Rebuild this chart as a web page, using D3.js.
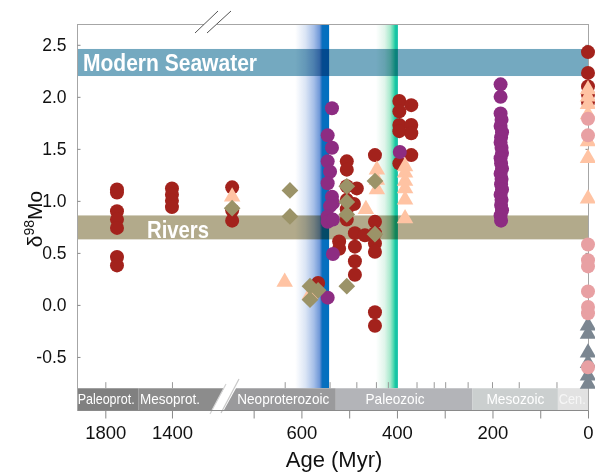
<!DOCTYPE html>
<html><head><meta charset="utf-8">
<script src="https://cdnjs.cloudflare.com/ajax/libs/d3/7.8.5/d3.min.js"></script>
<style>
body{margin:0;background:#fff}
svg{display:block;font-family:"Liberation Sans",Arial,Helvetica,sans-serif}
</style>
</head><body><svg id="c" width="595" height="473"></svg>
<script>
// ---------- data ----------
const yTicks = [-0.5, 0, 0.5, 1, 1.5, 2, 2.5];
const xTicks = [1800, 1400, 700, 600, 500, 400, 300, 200, 100, 0];
const xTickLabels = [1800, 1400, 600, 400, 200, 0];
const boundaryTicks = [1800, 1400, 635, 541, 485, 444, 419, 359, 323, 299, 252, 201, 145, 66];
const eraNames = ["Paleoprot.", "Mesoprot.", "Neoproterozoic", "Paleozoic", "Mesozoic", "Cen."];
const eraStart = [1970, 1600, 783, 528, 242, 63];
const eraEnd   = [1600, 1150, 528, 242, 63, 0];
const eraLabelAge = [1795, 1412, 638, 404, 152, 33];
const seawaterBand = [2.20, 2.46];
const riversBand = [0.63, 0.86];
const cambrianBand = [613, 542];
const devonianBand = [444, 398];

const redCircles = [
  [1730,1.11],[1730,1.08],[1730,0.90],[1730,0.82],[1730,0.74],[1730,0.46],[1730,0.38],
  [1400,1.12],[1400,1.06],[1400,1.00],[1400,0.94],
  [745,1.13],[745,0.91],[745,0.81],
  [565,0.21],
  [521,0.61],[521,0.54],
  [505,1.38],[505,1.30],[505,1.14],[505,1.01],[505,0.92],[505,0.82],
  [484,1.12],[490,0.97],
  [488,0.69],[488,0.56],[488,0.42],[488,0.29],[467,0.67],
  [446,1.44],[446,0.80],[446,0.69],[446,0.59],[446,0.51],[446,-0.07],[446,-0.20],
  [395,1.96],[395,1.86],[395,1.73],[395,1.67],[395,1.36],
  [370,1.92],[370,1.73],[370,1.65],[370,1.44],
  [0,2.43],[0,2.23],[0,2.10],[0,2.02],[0,1.95]
];
const peachTriangles = [
  [745,1.04],[635,0.22],[582,0.10],[465,0.92],
  [442,1.30],[442,1.20],[442,1.11],
  [383,1.33],[383,1.27],[383,1.19],[383,1.12],[383,1.01],[383,0.83],
  [0,2.07],[0,2.00],[0,1.93],[0,1.83],[0,1.57],[0,1.41],[0,1.02]
];
const purpleCircles = [
  [536,1.89],[545,1.63],[536,1.51],[545,1.38],[540,1.28],[545,1.17],[536,1.04],[534,0.98],
  [540,0.95],[545,0.85],[545,0.80],[534,0.82],[534,0.49],[545,0.07],
  [394,1.47],
  [183,2.12],[183,2.00],[183,1.84],[181,1.78],[183,1.72],[180,1.66],[182,1.61],[183,1.56],
  [181,1.51],[180,1.46],[183,1.41],[182,1.36],[180,1.31],[183,1.26],[181,1.21],[182,1.16],
  [180,1.11],[183,1.06],[181,1.01],[182,0.96],[180,0.91],[183,0.86],[182,0.81]
];
const khakiDiamonds = [
  [745,0.93],[624,1.10],[624,0.85],[582,0.18],[582,0.05],[565,0.14],
  [505,1.14],[505,0.99],[505,0.87],[505,0.18],[446,1.19],[446,0.68]
];
const grayTriangles = [[0,-0.20],[0,-0.28],[0,-0.46],[0,-0.56],[0,-0.68],[0,-0.76]];
const pinkCircles = [[0,1.79],[0,1.63],[0,0.58],[0,0.43],[0,0.37],[0,0.13],[0,-0.02],[0,-0.08],[0,-0.60]];

// ---------- styles ----------
const eraColors = ["#808080", "#8c8c8c", "#9a9a9c", "#b3b4b8", "#cbcfcf", "#e2e2e2"];
const eraText = ["#fff", "#fff", "#fff", "#fff", "#fff", "#f6f6f6"];
const eraTextLen = [57, 60, 92, 59, 58, 27];

// ---------- scales ----------
const svg = d3.select("#c");
const x = d3.scaleLinear().domain([1970, 1150, 783, 0]).range([77, 213.6, 214, 588]);
const y = d3.scaleLinear().domain([-1.01, 2.70]).range([410, 24]);
const plotTop = y(2.70), barTop = y(-0.80), barBot = y(-1.01);
const breakX = 214;

const defs = svg.append("defs");
function grad(id, stops) {
  const g = defs.append("linearGradient").attr("id", id).attr("x1", "0").attr("x2", "1").attr("y1", "0").attr("y2", "0");
  stops.forEach(s => g.append("stop").attr("offset", s[0]).attr("stop-color", s[1]));
}
grad("gBlue", [[0, "#ffffff"], [0.3, "#dbe5f5"], [0.55, "#a6bfe8"], [0.72, "#6f98d8"], [0.77, "#2f78c6"], [0.8, "#0a6fbe"], [1, "#0070c0"]]);
grad("gGreen", [[0, "#ffffff"], [0.4, "#dff5ea"], [0.65, "#a6e9cc"], [0.8, "#4fd8b0"], [0.88, "#19c8a4"], [1, "#12bea5"]]);

// horizontal bands
svg.append("rect").attr("x", x(1970)).attr("width", x(0) - x(1970))
  .attr("y", y(seawaterBand[1])).attr("height", y(seawaterBand[0]) - y(seawaterBand[1]))
  .attr("fill", "#74a9c0");
svg.append("rect").attr("x", x(1970)).attr("width", x(0) - x(1970))
  .attr("y", y(riversBand[1])).attr("height", y(riversBand[0]) - y(riversBand[1]))
  .attr("fill", "#b2aa8b");

// vertical gradient bands (multiply)
svg.append("rect").attr("x", x(cambrianBand[0])).attr("width", x(cambrianBand[1]) - x(cambrianBand[0]))
  .attr("y", plotTop).attr("height", barTop - plotTop).attr("fill", "url(#gBlue)")
  .style("mix-blend-mode", "multiply");
svg.append("rect").attr("x", x(devonianBand[0])).attr("width", x(devonianBand[1]) - x(devonianBand[0]))
  .attr("y", plotTop).attr("height", barTop - plotTop).attr("fill", "url(#gGreen)")
  .style("mix-blend-mode", "multiply");

// band labels
svg.append("text").attr("x", 83).attr("y", 71).attr("fill", "#fff")
  .attr("font-family", "'Liberation Sans Narrow','Liberation Sans',Arial,sans-serif")
  .attr("font-weight", "bold").attr("font-size", 24)
  .attr("textLength", 174).attr("lengthAdjust", "spacingAndGlyphs").text("Modern Seawater");
svg.append("text").attr("x", 147).attr("y", 238).attr("fill", "#fff")
  .attr("font-family", "'Liberation Sans Narrow','Liberation Sans',Arial,sans-serif")
  .attr("font-weight", "bold").attr("font-size", 24)
  .attr("textLength", 62).attr("lengthAdjust", "spacingAndGlyphs").text("Rivers");

// era bar
const eraG = svg.append("g");
eraNames.forEach((n, i) => {
  let x0 = x(eraStart[i]), x1 = x(eraEnd[i]);
  let pts;
  if (i === 1) pts = [[x0, barTop], [224, barTop], [212, barBot], [x0, barBot]];
  else if (i === 2) pts = [[236, barTop], [x1, barTop], [x1, barBot], [224, barBot]];
  else pts = [[x0, barTop], [x1, barTop], [x1, barBot], [x0, barBot]];
  eraG.append("path").attr("d", "M" + pts.join("L") + "Z").attr("fill", eraColors[i]);
});
// break slash on era bar
eraG.append("path").attr("d", "M226,384L210,414").attr("stroke", "#d4d4d4").attr("stroke-width", 1.2).attr("fill", "none");
eraG.append("path").attr("d", "M239,379L221,413").attr("stroke", "#c8c8c8").attr("stroke-width", 1.2).attr("fill", "none");
eraNames.forEach((n, i) => {
  eraG.append("text").attr("x", x(eraLabelAge[i])).attr("y", barTop + 15.5)
    .attr("text-anchor", "middle").attr("fill", eraText[i])
    .attr("font-family", "'Liberation Sans Narrow','Liberation Sans',Arial,sans-serif")
    .attr("font-size", 14.5).attr("textLength", eraTextLen[i]).attr("lengthAdjust", "spacingAndGlyphs")
    .text(n);
});
svg.append("line").attr("x1", 77).attr("x2", 588).attr("y1", barBot + 0.5).attr("y2", barBot + 0.5)
  .attr("stroke", "#8a8a8a");

// frame
const frame = svg.append("g").attr("stroke", "#a6a6a6").attr("fill", "none");
frame.append("line").attr("x1", 77.5).attr("x2", 77.5).attr("y1", plotTop).attr("y2", barBot + 1);
frame.append("line").attr("x1", 588.5).attr("x2", 588.5).attr("y1", plotTop).attr("y2", barBot + 1);
frame.append("line").attr("x1", 77).attr("x2", 204).attr("y1", plotTop + 0.5).attr("y2", plotTop + 0.5);
frame.append("line").attr("x1", 217).attr("x2", 589).attr("y1", plotTop + 0.5).attr("y2", plotTop + 0.5);
// top break marks
const brk = svg.append("g").attr("stroke", "#555").attr("stroke-width", 1);
brk.append("line").attr("x1", breakX - 19).attr("y1", 33).attr("x2", breakX + 4).attr("y2", 11);
brk.append("line").attr("x1", breakX - 7).attr("y1", 33).attr("x2", breakX + 17).attr("y2", 11);

// axes
const yAxis = svg.append("g").attr("transform", "translate(77.5,0)")
  .call(d3.axisLeft(y).tickValues(yTicks).tickSize(-3).tickPadding(11).tickFormat(d => d.toFixed(1)));
yAxis.select(".domain").remove();
yAxis.selectAll("line").attr("stroke", "#888");
yAxis.selectAll("text").attr("font-size", 17.5).attr("fill", "#111").attr("font-family", "'Liberation Sans',Arial,sans-serif");
const yAxisR = svg.append("g").attr("transform", "translate(588.5,0)")
  .call(d3.axisRight(y).tickValues(yTicks).tickSize(-3).tickFormat(""));
yAxisR.select(".domain").remove();
yAxisR.selectAll("line").attr("stroke", "#888");

const xAxis = svg.append("g").attr("transform", `translate(0,${barBot + 0.5})`)
  .call(d3.axisBottom(x).tickValues(xTicks).tickSize(8).tickPadding(7.4)
    .tickFormat(d => xTickLabels.includes(d) ? String(d) : ""));
xAxis.select(".domain").remove();
xAxis.selectAll("line").attr("stroke", "#888");
xAxis.selectAll("text").attr("font-size", 18.5).attr("fill", "#111").attr("font-family", "'Liberation Sans',Arial,sans-serif");

const topTicks = svg.append("g").attr("transform", `translate(0,${barTop})`)
  .call(d3.axisTop(x).tickValues(boundaryTicks).tickSize(6).tickFormat(""));
topTicks.select(".domain").remove();
topTicks.selectAll("line").attr("stroke", "#999");

// axis titles
svg.append("text").attr("x", 334).attr("y", 467).attr("text-anchor", "middle")
  .attr("font-size", 22).attr("fill", "#111").text("Age (Myr)");
const yt = svg.append("text").attr("transform", "translate(42,219) rotate(-90)")
  .attr("text-anchor", "middle").attr("font-size", 21).attr("fill", "#111");
yt.append("tspan").text("δ");
yt.append("tspan").attr("font-size", 14).attr("dy", -8).text("98");
yt.append("tspan").attr("dy", 8).text("Mo");

// markers
const circ = d3.symbol().type(d3.symbolCircle).size(Math.PI * 7 * 7);
const tri = d3.symbol().type(d3.symbolTriangle).size(118);
const dia = d3.symbol().type(d3.symbolSquare).size(140);
function plot(data, sym, color, rot) {
  svg.append("g").selectAll("path").data(data).join("path")
    .attr("d", sym)
    .attr("transform", d => `translate(${x(d[0])},${y(d[1])})` + (rot ? " rotate(45)" : ""))
    .attr("fill", color);
}
plot(redCircles, circ, "#a3221c");
plot(peachTriangles, tri, "#ffc3a3");
plot(purpleCircles, circ, "#8d2c82");
plot(khakiDiamonds, dia, "#9b9368", true);
plot(grayTriangles, tri, "#7b8691");
plot(pinkCircles, circ, "#e8a0a3");
</script>
</body></html>
